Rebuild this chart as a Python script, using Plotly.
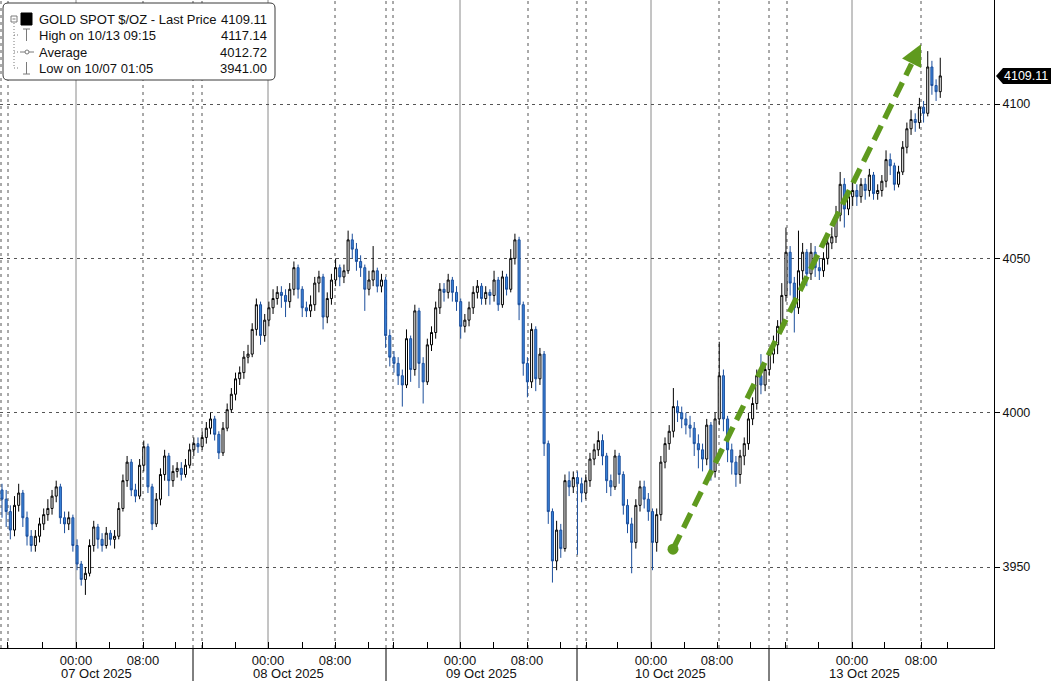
import plotly.graph_objects as go

# ---------------- data: 30-minute bars of GOLD SPOT $/OZ ----------------
close = [
    3972, 3968, 3962, 3970, 3974, 3966, 3960, 3957, 3960, 3964,
    3967, 3969, 3973, 3976, 3966, 3964, 3966, 3957, 3951, 3946,
    3948, 3957, 3963, 3959, 3957, 3961, 3959, 3960, 3969, 3978,
    3984, 3975, 3973, 3983, 3989, 3976, 3964, 3972, 3980, 3986,
    3978, 3981, 3982, 3980, 3983, 3988,
    3990, 3989, 3992, 3995, 3998, 3993, 3987, 3995, 4001, 4006,
    4011, 4013, 4018, 4019, 4027, 4035, 4025, 4030, 4034, 4037,
    4039, 4038, 4036, 4040, 4047, 4040, 4034, 4033, 4035, 4042,
    4044, 4031, 4037, 4043, 4047, 4044, 4046, 4056, 4053, 4049,
    4047, 4040, 4043, 4046, 4041, 4043,
    4025, 4018, 4016, 4012, 4009, 4024, 4014, 4033, 4016, 4010,
    4022, 4026, 4034, 4040, 4039, 4043, 4039, 4036, 4028, 4030,
    4034, 4039, 4041, 4037, 4039, 4038, 4043, 4035, 4044, 4040,
    4050, 4056, 4035, 4016, 4010, 4027, 4011, 4019, 3990, 3968,
    3952, 3962, 3956, 3978, 3976, 3979,
    3977, 3974, 3978, 3985, 3988, 3991, 3986, 3978, 3976, 3986,
    3980, 3970, 3964, 3958, 3970, 3976, 3972, 3968, 3958, 3967,
    3984, 3990, 3994, 4002, 4000, 3998, 3996, 3995, 3990, 3988,
    3985, 3996, 3981, 3998, 4012, 3998, 3988, 3984, 3980, 3986,
    3990, 3998, 4003, 4012, 4009, 4014, 4019,
    4022, 4028, 4038, 4052, 4042, 4034, 4046, 4052, 4045, 4052,
    4047, 4046, 4050, 4055, 4057, 4064, 4074, 4066, 4070, 4072,
    4070, 4074, 4072, 4077, 4071, 4072, 4075, 4082, 4080, 4074,
    4078, 4086, 4092, 4095, 4094, 4099, 4097, 4112, 4106, 4104,
    4109.11,
]
high = [
    3977, 3975, 3970, 3973, 3977, 3975, 3968, 3962, 3962, 3966,
    3969, 3972, 3975, 3978, 3977, 3968, 3968, 3967, 3959, 3952,
    3950, 3959, 3965, 3964, 3961, 3963, 3962, 3962, 3971, 3980,
    3986, 3985, 3977, 3985, 3991, 3990, 3977, 3974, 3982, 3988,
    3987, 3983, 3984, 3984, 3985, 3990,
    3992, 3992, 3994, 3997, 4000, 3999, 3994, 3997, 4003, 4008,
    4013, 4015, 4020, 4022, 4029, 4037, 4036, 4032, 4036, 4040,
    4041, 4041, 4040, 4042, 4049, 4048, 4041, 4036, 4038, 4044,
    4046, 4045, 4039, 4045, 4050, 4048, 4048, 4059, 4058, 4055,
    4051, 4048, 4046, 4054, 4047, 4045,
    4044, 4027, 4020, 4018, 4014, 4027, 4025, 4035, 4034, 4018,
    4024, 4028, 4036, 4042, 4042, 4045, 4044, 4041, 4037, 4032,
    4036, 4041, 4043, 4042, 4041, 4040, 4046, 4044, 4046, 4045,
    4053, 4058, 4057, 4036, 4018, 4029, 4028, 4021, 4020, 3991,
    3969, 3965, 3964, 3980, 3981, 3981,
    3981, 3979, 3980, 3987, 3990, 3994, 3993, 3987, 3980, 3988,
    3987, 3981, 3972, 3966, 3972, 3978, 3978, 3974, 3969, 3969,
    3986, 3992, 3996, 4008, 4004, 4002, 4000, 3999, 3997, 3993,
    3990, 3998, 3997, 4000, 4023, 4014, 3999, 3990, 3986, 3988,
    3992, 4000, 4005, 4014, 4019, 4016, 4021,
    4025, 4030, 4042, 4060, 4054, 4044, 4059, 4055, 4053, 4055,
    4054, 4050, 4052, 4057, 4060, 4067, 4078, 4076, 4072, 4075,
    4074, 4076, 4076, 4079, 4078, 4074, 4077, 4085, 4084, 4081,
    4080, 4088, 4094, 4098, 4097, 4102, 4101, 4117.14, 4114, 4108,
    4115,
]
low = [
    3966, 3963, 3959, 3960, 3968, 3963, 3957, 3955, 3955, 3958,
    3962, 3965, 3967, 3971, 3964, 3961, 3962, 3955, 3949, 3944,
    3941, 3947, 3955, 3956, 3955, 3956, 3957, 3956, 3959, 3968,
    3976, 3973, 3971, 3972, 3981, 3974, 3962, 3963, 3970, 3978,
    3973, 3976, 3979, 3978, 3979, 3982,
    3986, 3987, 3988, 3990, 3993, 3991, 3985, 3986, 3994, 4000,
    4004, 4009, 4011, 4016, 4018, 4025, 4022, 4023, 4028, 4032,
    4035, 4034, 4031, 4034, 4038, 4037, 4031, 4031, 4031, 4033,
    4039, 4027, 4029, 4035, 4041, 4041, 4042, 4045, 4050, 4046,
    4044, 4033, 4038, 4041, 4039, 4039,
    4021, 4015, 4013, 4009, 4002, 4008, 4010, 4012, 4008, 4003,
    4009, 4020, 4024, 4032, 4036, 4037, 4036, 4033, 4024, 4026,
    4028, 4032, 4037, 4035, 4035, 4035, 4036, 4033, 4034, 4038,
    4039, 4048, 4030, 4012, 4005, 4008, 4007, 4009, 3986, 3964,
    3945, 3949, 3953, 3955, 3973, 3974,
    3954, 3971, 3972, 3976, 3983, 3986, 3983, 3974, 3973, 3975,
    3977, 3967, 3961, 3948, 3956, 3968, 3969, 3965, 3949, 3955,
    3965, 3982, 3988, 3992, 3997, 3995, 3993, 3992, 3986, 3982,
    3981, 3983, 3978, 3979, 3996, 3994, 3984, 3980, 3976, 3977,
    3983, 3988, 3996, 4001, 4006, 4007, 4012,
    4016, 4019, 4026, 4036, 4038, 4026, 4032, 4043, 4041, 4043,
    4044, 4043, 4044, 4048, 4053, 4055, 4062, 4060, 4064, 4067,
    4067, 4068, 4069, 4070, 4069, 4069, 4070, 4073, 4077, 4072,
    4073, 4077, 4084, 4090, 4091, 4092, 4094, 4096, 4103, 4101,
    4102,
]
first_open = 3975
# each bar opens where the previous one closed
open_ = [first_open] + close[:-1]

y_ticks = [3950, 4000, 4050, 4100]
hour_labels = ["00:00", "08:00"]
day_labels = ["07 Oct 2025", "08 Oct 2025", "09 Oct 2025", "10 Oct 2025", "13 Oct 2025"]

legend_rows = [
    ("GOLD SPOT $/OZ - Last Price", "4109.11"),
    ("High on 10/13 09:15", "4117.14"),
    ("Average", "4012.72"),
    ("Low on 10/07 01:05", "3941.00"),
]
last_price = 4109.11

# ---------------- layout geometry ----------------
W, H = 1051, 681
ML, MR, MT, MB = 0, 57, 0, 33
PW, PH = W - ML - MR, H - MT - MB          # plot area in px
BAR_PX = 4.17                              # px per 30-min bar
BAR0_PX = 2.0                              # px centre of first bar
Y_LO, Y_HI = 3923.8, 4133.7


def bx(px):
    """horizontal pixel position -> bar-index axis value"""
    return (px - BAR0_PX) / BAR_PX


def fx(px):
    return px / PW


def fy(py):
    return 1 - py / PH


x = list(range(len(close)))

# positions of axis elements (px along the time axis)
minor_tick_px = [7, 42, 76, 109, 143, 175, 202, 235, 268, 302, 335, 368, 393, 427, 460,
                 493, 527, 560, 586, 617, 651, 684, 717, 750, 785, 818, 852, 884, 921, 947]
label_tick_px = {76: 0, 143: 1, 268: 0, 335: 1, 460: 0, 527: 1, 651: 0, 717: 1, 852: 0, 921: 1}
midnight_px = [76, 268, 460, 651, 852]
dotted_px = [1, 8, 143, 193, 202, 335, 386, 393, 528, 577, 586, 719, 769, 787, 921]
separator_px = [193, 386, 577, 769]
day_label_px = [96, 288, 481, 670, 864]

tickvals = [bx(p) for p in minor_tick_px]
ticktext = [hour_labels[label_tick_px[p]] if p in label_tick_px else "" for p in minor_tick_px]

FONT = "Liberation Sans, Arial, sans-serif"

fig = go.Figure()
fig.add_trace(go.Candlestick(
    x=x, open=open_, high=high, low=low, close=close,
    increasing=dict(line=dict(color="#000000", width=1), fillcolor="#ffffff"),
    decreasing=dict(line=dict(color="#1c4f9c", width=1), fillcolor="#3a84dc"),
    whiskerwidth=0, showlegend=False, hoverinfo="skip",
))

shapes = []
# vertical grid
for p in midnight_px:
    shapes.append(dict(type="line", xref="x", yref="paper", x0=bx(p), x1=bx(p), y0=0, y1=1,
                       line=dict(color="#8a8a8a", width=1), layer="below"))
for p in dotted_px:
    shapes.append(dict(type="line", xref="x", yref="paper", x0=bx(p), x1=bx(p), y0=0, y1=1,
                       line=dict(color="#555555", width=1, dash="3px,4px"), layer="below"))
# day separators under the axis
for p in separator_px:
    shapes.append(dict(type="line", xref="x", yref="paper", x0=bx(p), x1=bx(p), y0=0, y1=-MB / PH,
                       line=dict(color="#000000", width=1), layer="above"))

# ---- trend arrow (green dashed) ----
GREEN = "#5f9a1e"
arrow_start = (bx(673), 3955.8)
arrow_shaft_end = (bx(911.5), 4113.0)
arrow_tip = (bx(921), 4119.4)
shapes.append(dict(type="line", xref="x", yref="y",
                   x0=arrow_start[0], y0=arrow_start[1], x1=arrow_shaft_end[0], y1=arrow_shaft_end[1],
                   line=dict(color=GREEN, width=5.5, dash="16px,8px"), layer="above"))

# ---- legend box ----
def rrect(x0, y0, x1, y1, r):
    X0, X1 = fx(x0), fx(x1)
    Y0, Y1 = fy(y0), fy(y1)
    rx, ry = r / PW, r / PH
    return (f"M {X0+rx},{Y0} L {X1-rx},{Y0} Q {X1},{Y0} {X1},{Y0-ry} "
            f"L {X1},{Y1+ry} Q {X1},{Y1} {X1-rx},{Y1} L {X0+rx},{Y1} "
            f"Q {X0},{Y1} {X0},{Y1+ry} L {X0},{Y0-ry} Q {X0},{Y0} {X0+rx},{Y0} Z")

shapes.append(dict(type="path", xref="paper", yref="paper", path=rrect(3, 3, 275, 80, 5),
                   fillcolor="#ffffff", line=dict(color="#3a3a3a", width=1), layer="above"))

GREY = "#7a7a7a"


def pline(x0, y0, x1, y1, color=GREY, width=1, dash=None):
    d = dict(color=color, width=width)
    if dash:
        d["dash"] = dash
    return dict(type="line", xref="paper", yref="paper", x0=fx(x0), y0=fy(y0), x1=fx(x1), y1=fy(y1),
                line=d, layer="above")


def prect(x0, y0, x1, y1, fill, color, width=1):
    return dict(type="rect", xref="paper", yref="paper", x0=fx(x0), y0=fy(y0), x1=fx(x1), y1=fy(y1),
                fillcolor=fill, line=dict(color=color, width=width), layer="above")


row_y = [19, 35, 52, 68]
# tree lines
shapes.append(pline(14, 23, 14, row_y[3], dash="1px,2px"))
for ry in row_y[1:]:
    shapes.append(pline(14, ry, 20, ry, dash="1px,2px"))
shapes.append(prect(11, 16, 17, 22, "#ffffff", GREY))
shapes.append(pline(12.5, 19, 15.5, 19))
shapes.append(prect(21, 13, 32, 25, "#000000", "#000000"))
# high icon (T)
shapes.append(pline(23, 29, 30, 29))
shapes.append(pline(26.5, 29, 26.5, 41))
# average icon
shapes.append(pline(20, row_y[2], 34, row_y[2]))
shapes.append(dict(type="circle", xref="paper", yref="paper", x0=fx(25), x1=fx(29), y0=fy(50), y1=fy(54),
                   fillcolor="#ffffff", line=dict(color=GREY, width=1), layer="above"))
# low icon (inverted T)
shapes.append(pline(26.5, 62, 26.5, 74))
shapes.append(pline(23, 74, 30, 74))

# last price tag (left-pointing black label beside right axis)
shapes.append(dict(type="path", xref="paper", yref="y", xsizemode="pixel", ysizemode="pixel",
                   xanchor=1, yanchor=last_price,
                   path="M 2,0 L 9,8 L 58,8 L 58,-8 L 9,-8 Z",
                   fillcolor="#000000", line=dict(color="#000000", width=0), layer="above"))

annotations = []
for (label, val), ry in zip(legend_rows, row_y):
    annotations.append(dict(xref="paper", yref="paper", x=fx(37), y=fy(ry), xanchor="left", yanchor="middle",
                            text=label, showarrow=False, font=dict(family=FONT, size=13, color="#111111")))
    annotations.append(dict(xref="paper", yref="paper", x=fx(269), y=fy(ry), xanchor="right", yanchor="middle",
                            text=val, showarrow=False, font=dict(family=FONT, size=13, color="#111111")))

for lab, p in zip(day_labels, day_label_px):
    annotations.append(dict(xref="x", yref="paper", x=bx(p), y=fy(673), xanchor="center", yanchor="middle",
                            text=lab, showarrow=False, font=dict(family=FONT, size=13, color="#111111")))

annotations.append(dict(xref="paper", yref="y", x=1, y=last_price, xanchor="left", yanchor="middle",
                        xshift=8, text=f"{last_price:.2f}", showarrow=False,
                        font=dict(family=FONT, size=12.5, color="#ffffff")))

# arrow head
annotations.append(dict(xref="x", yref="y", x=arrow_tip[0], y=arrow_tip[1], axref="pixel", ayref="pixel",
                        ax=-0.443 * 22, ay=0.896 * 22, showarrow=True, arrowhead=2, arrowsize=0.85,
                        arrowwidth=5, arrowcolor=GREEN, text=""))

fig.add_trace(go.Scatter(x=[arrow_start[0]], y=[arrow_start[1]], mode="markers",
                         marker=dict(color=GREEN, size=11), showlegend=False, hoverinfo="skip"))

fig.update_layout(
    width=W, height=H,
    margin=dict(l=ML, r=MR, t=MT, b=MB, pad=0, autoexpand=False),
    paper_bgcolor="#ffffff", plot_bgcolor="#ffffff",
    font=dict(family=FONT, size=13, color="#111111"),
    shapes=shapes, annotations=annotations,
    showlegend=False,
    xaxis=dict(
        range=[bx(0), bx(PW)], rangeslider=dict(visible=False),
        tickmode="array", tickvals=tickvals, ticktext=ticktext,
        ticks="inside", ticklen=6, tickcolor="#000000", tickwidth=1,
        showline=True, linecolor="#000000", linewidth=1,
        showgrid=False, zeroline=False, automargin=False,
        tickfont=dict(family=FONT, size=13, color="#111111"),
    ),
    yaxis=dict(
        side="right", range=[Y_LO, Y_HI],
        tickmode="array", tickvals=y_ticks, ticktext=[str(v) for v in y_ticks],
        ticks="outside", ticklen=5, tickcolor="#000000",
        showline=True, linecolor="#000000", linewidth=1,
        showgrid=True, gridcolor="#555555", gridwidth=1, griddash="3px,4px",
        zeroline=False, automargin=False,
        tickfont=dict(family=FONT, size=12.5, color="#111111"),
    ),
)

fig.write_html(
    "out.html",
    config={"displayModeBar": False},
    post_script="document.body.style.margin='0px';document.body.style.overflow='hidden';",
)
